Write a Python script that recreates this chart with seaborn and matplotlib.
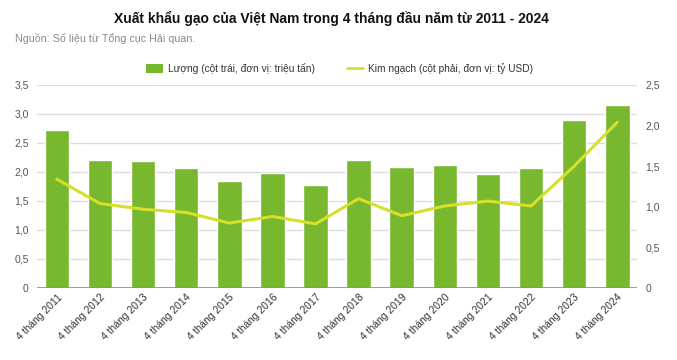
import matplotlib
matplotlib.use("Agg")
import matplotlib.pyplot as plt
import matplotlib.ticker as mticker
from matplotlib.patches import Patch
from matplotlib.lines import Line2D
import pandas as pd
import seaborn as sns

# data
years = ["4 tháng 2011", "4 tháng 2012", "4 tháng 2013", "4 tháng 2014", "4 tháng 2015",
         "4 tháng 2016", "4 tháng 2017", "4 tháng 2018", "4 tháng 2019", "4 tháng 2020",
         "4 tháng 2021", "4 tháng 2022", "4 tháng 2023", "4 tháng 2024"]
luong = [2.72, 2.21, 2.19, 2.06, 1.84, 1.98, 1.77, 2.20, 2.09, 2.12, 1.96, 2.06, 2.90, 3.16]
kim_ngach = [1.34, 1.04, 0.97, 0.93, 0.80, 0.88, 0.79, 1.10, 0.89, 1.01, 1.07, 1.01, 1.50, 2.04]

df = pd.DataFrame({"Năm": years, "Lượng": luong, "Kim ngạch": kim_ngach})

bar_color = "#77b82e"
line_color = "#d6e02a"

sns.set_theme(style="white")
plt.rcParams["font.family"] = ["Liberation Sans", "DejaVu Sans"]

fig = plt.figure(figsize=(6.77, 3.6), dpi=100)
ax = fig.add_axes([0.0547, 0.2, 0.8863, 0.564])

sns.barplot(data=df, x="Năm", y="Lượng", color=bar_color, width=0.57,
            saturation=1, ax=ax, zorder=2)
ax.set_ylim(0, 3.5)
ax.set_yticks([0, 0.5, 1, 1.5, 2, 2.5, 3, 3.5])
ax.set_xlim(-0.46, len(years) - 0.54)

ax2 = ax.twinx()
sns.lineplot(data=df, x="Năm", y="Kim ngạch", color=line_color, linewidth=2.2,
             sort=False, ax=ax2)
ax2.set_ylim(0, 2.5)
ax2.set_yticks([0, 0.5, 1, 1.5, 2, 2.5])

def vn_fmt(v, pos):
    if v == 0:
        return "0"
    return f"{v:.1f}".replace(".", ",")

for a in (ax, ax2):
    a.yaxis.set_major_formatter(mticker.FuncFormatter(vn_fmt))
    a.set_xlabel("")
    a.set_ylabel("")
    for s in a.spines.values():
        s.set_visible(False)
    a.tick_params(axis="y", length=0, labelsize=7.5, colors="#555555", pad=6)

ax.grid(axis="y", color="#dcdcdc", linewidth=1)
ax.set_axisbelow(True)
ax.axhline(0, color="#8c8c8c", linewidth=1.2, zorder=3)
ax.tick_params(axis="x", length=0, labelsize=7.5, colors="#333333", pad=3)
plt.setp(ax.get_xticklabels(), rotation=45, ha="right", rotation_mode="anchor")

fig.text(0.489, 0.95, "Xuất khẩu gạo của Việt Nam trong 4 tháng đầu năm từ 2011 - 2024",
         ha="center", va="center", fontsize=10, fontweight="bold", color="#111111")
fig.text(0.022, 0.893, "Nguồn: Số liệu từ Tổng cục Hải quan.",
         ha="left", va="center", fontsize=7.7, color="#8a8a8a")

handles = [Patch(facecolor=bar_color, edgecolor="none"),
           Line2D([0], [0], color=line_color, linewidth=2)]
labels = ["Lượng (cột trái, đơn vị: triệu tấn)", "Kim ngạch (cột phải, đơn vị: tỷ USD)"]
fig.legend(handles, labels, loc="center", bbox_to_anchor=(0.502, 0.81), ncol=2,
           frameon=False, fontsize=7.3, handlelength=1.6, handleheight=0.9,
           columnspacing=3.2, handletextpad=0.5, labelcolor="#333333")

fig.savefig("out.png", dpi=100)
